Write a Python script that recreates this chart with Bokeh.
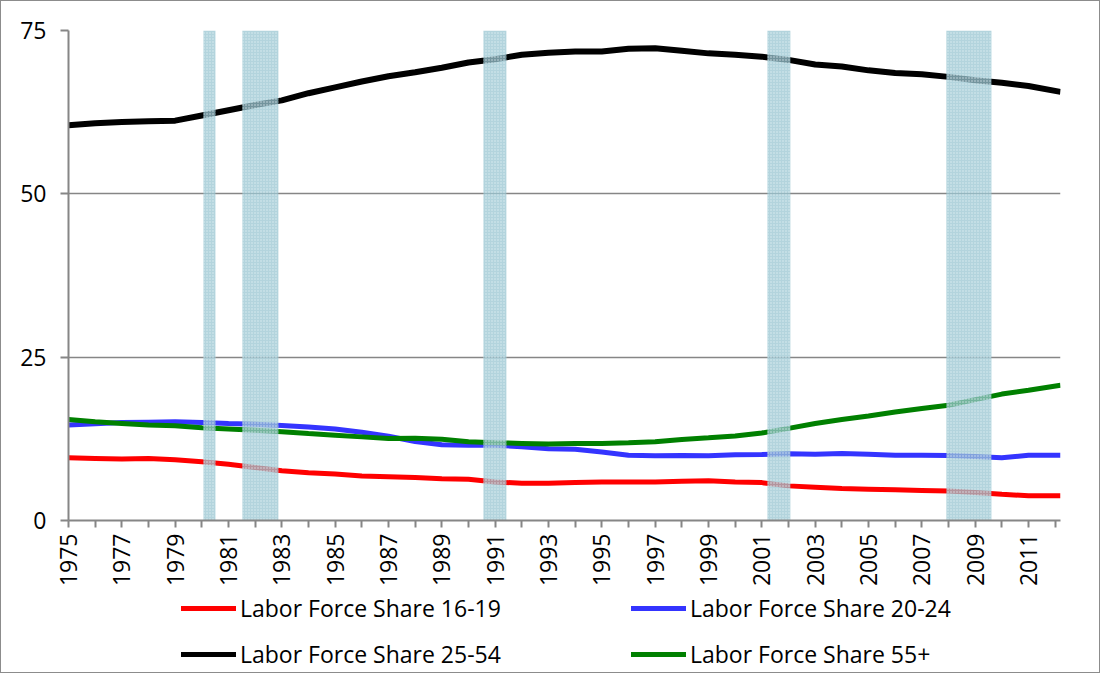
import math
from bokeh.plotting import figure
from bokeh.models import Range1d, FixedTicker, Legend, LegendItem
from bokeh.layouts import column
from bokeh.embed import file_html
from bokeh.resources import INLINE

# ---- data (annual readings, last point early 2012) ----
years = [1975, 1976, 1977, 1978, 1979, 1980, 1981, 1982, 1983, 1984, 1985,
         1986, 1987, 1988, 1989, 1990, 1991, 1992, 1993, 1994, 1995, 1996,
         1997, 1998, 1999, 2000, 2001, 2002, 2003, 2004, 2005, 2006, 2007,
         2008, 2009, 2010, 2011, 2012.2]

share_16_19 = [9.6, 9.5, 9.4, 9.5, 9.3, 9.0, 8.6, 8.1, 7.6, 7.3, 7.1,
               6.8, 6.7, 6.6, 6.4, 6.3, 5.9, 5.7, 5.7, 5.8, 5.9, 5.9,
               5.9, 6.0, 6.1, 5.9, 5.8, 5.3, 5.1, 4.9, 4.8, 4.7, 4.6,
               4.5, 4.3, 4.0, 3.8, 3.8]

share_20_24 = [14.6, 14.8, 15.0, 15.05, 15.1, 15.0, 14.85, 14.75, 14.55, 14.3, 14.0,
               13.5, 12.9, 12.1, 11.6, 11.5, 11.5, 11.3, 11.0, 10.9, 10.5, 10.0,
               9.9, 9.95, 9.9, 10.05, 10.1, 10.2, 10.15, 10.25, 10.15, 10.0, 10.0,
               9.95, 9.8, 9.6, 10.0, 10.0]

share_25_54 = [60.5, 60.8, 61.0, 61.1, 61.2, 62.0, 62.8, 63.6, 64.3, 65.4, 66.3,
               67.2, 68.0, 68.6, 69.3, 70.1, 70.6, 71.3, 71.6, 71.8, 71.8, 72.2,
               72.3, 71.9, 71.5, 71.3, 71.0, 70.5, 69.8, 69.5, 68.9, 68.5, 68.3,
               67.9, 67.4, 67.0, 66.5, 65.6]

share_55p = [15.45, 15.1, 14.85, 14.6, 14.5, 14.2, 14.0, 13.8, 13.6, 13.3, 13.05,
             12.8, 12.55, 12.6, 12.45, 12.05, 11.9, 11.8, 11.7, 11.8, 11.8, 11.9,
             12.05, 12.4, 12.65, 12.95, 13.4, 14.1, 14.85, 15.45, 16.0, 16.6, 17.15,
             17.65, 18.5, 19.35, 19.95, 20.7]

series_names = ["Labor Force Share 16-19", "Labor Force Share 20-24",
                "Labor Force Share 25-54", "Labor Force Share 55+"]

rec_start = [1980.06, 1981.52, 1990.56, 2001.21, 2007.92]
rec_end = [1980.51, 1982.87, 1991.42, 2002.07, 2009.61]

y_ticks = [0, 25, 50, 75]
x_ticks = list(range(1975, 2013))

FONT = "Open Sans"
FSIZE = "23px"
GRAY = "#868686"
COLORS = ["#ff0000", "#3434ff", "black", "#008000"]
WIDTHS = [5, 5, 6, 5]

p = figure(width=1098, height=588, output_backend="svg", toolbar_location=None,
           x_range=Range1d(1975, 2012.2), y_range=Range1d(0, 75),
           min_border_left=67, min_border_right=39, min_border_top=29,
           min_border_bottom=69)
p.outline_line_color = None
p.background_fill_color = "white"
p.border_fill_color = "white"

# axes
p.yaxis.ticker = FixedTicker(ticks=y_ticks)
p.ygrid.ticker = FixedTicker(ticks=y_ticks)
p.ygrid.grid_line_color = GRAY
p.ygrid.grid_line_width = 1.5
p.xgrid.grid_line_color = None

p.xaxis.ticker = FixedTicker(ticks=x_ticks)
p.xaxis.major_label_overrides = {y: (str(y) if (y - 1975) % 2 == 0 else "") for y in x_ticks}
p.xaxis.major_label_orientation = math.pi / 2

for ax in (p.xaxis[0], p.yaxis[0]):
    ax.axis_line_color = GRAY
    ax.axis_line_width = 2
    ax.major_tick_line_color = GRAY
    ax.major_tick_line_width = 2
    ax.minor_tick_line_color = None
    ax.major_tick_in = 0
    ax.major_label_text_font = FONT
    ax.major_label_text_font_size = FSIZE
    ax.major_label_text_color = "black"
p.yaxis.major_tick_out = 8
p.yaxis.major_label_standoff = 14
p.xaxis.major_tick_out = 7
p.xaxis.major_label_standoff = 6

# lines
data = [share_16_19, share_20_24, share_25_54, share_55p]
for vals, c, w in zip(data, COLORS, WIDTHS):
    p.line(years, vals, line_color=c, line_width=w)

# recession shading
p.quad(left=rec_start, right=rec_end, bottom=0, top=75,
       fill_color="#9ac6d2", fill_alpha=0.75, line_color=None,
       hatch_pattern="dot", hatch_color="#e6f2f5", hatch_scale=3, hatch_weight=1,
       hatch_alpha=0.8)

# legend strip below the chart (its own lines lie outside its tiny range)
lg = figure(width=1098, height=83, output_backend="svg", toolbar_location=None,
            x_range=Range1d(0, 1), y_range=Range1d(0, 1),
            min_border=0, min_border_left=0, min_border_right=0,
            min_border_top=0, min_border_bottom=0)
lg.axis.visible = False
lg.grid.visible = False
lg.outline_line_color = None
lg.background_fill_color = "white"
lg.border_fill_color = "white"
items = []
for name, vals, c in zip(series_names, data, COLORS):
    r = lg.line(years, vals, line_color=c, line_width=5, line_cap="round")
    items.append(LegendItem(label=name, renderers=[r]))

legend = Legend(items=items, orientation="horizontal", ncols=2,
                location=(113, 2),
                label_text_font=FONT, label_text_font_size=FSIZE,
                label_text_color="black",
                glyph_width=55, glyph_height=30, label_height=30,
                label_width=377, label_standoff=4, spacing=14,
                padding=0, margin=0, border_line_color=None,
                background_fill_alpha=0)
lg.add_layout(legend, "center")

layout = column(p, lg, spacing=0, styles={"border": "1px solid #8c8c8c"})

open("out.html", "w").write(file_html(layout, INLINE))
